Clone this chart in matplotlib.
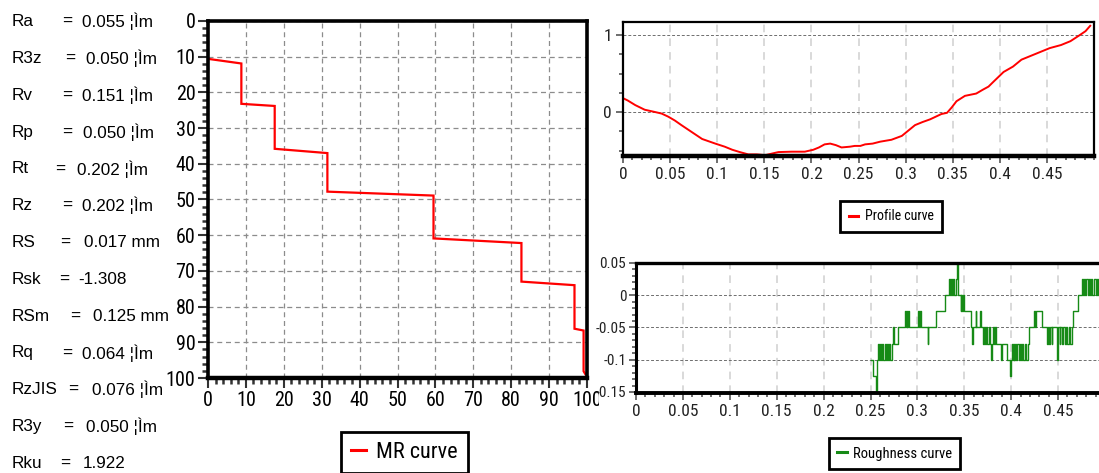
import matplotlib
matplotlib.use("Agg")
import matplotlib.pyplot as plt
from matplotlib import font_manager as fm
from matplotlib.ticker import MultipleLocator, FixedLocator
from matplotlib.lines import Line2D
from matplotlib.transforms import Bbox, TransformedBbox

# ---------------- data ----------------
stat_names = ["Ra", "R3z", "Rv", "Rp", "Rt", "Rz", "RS", "Rsk", "RSm", "Rq", "RzJIS", "R3y", "Rku"]
stat_values = ["0.055 ¦Ìm", "0.050 ¦Ìm", "0.151 ¦Ìm", "0.050 ¦Ìm", "0.202 ¦Ìm", "0.202 ¦Ìm",
               "0.017 mm", "-1.308", "0.125 mm", "0.064 ¦Ìm", "0.076 ¦Ìm", "0.050 ¦Ìm", "1.922"]

mr_x = [0, 8.8, 8.8, 17.6, 17.6, 31.5, 31.5, 59.5, 59.5, 82.7, 82.7, 96.7, 96.7, 99.1, 99.1, 99.6]
mr_y = [10.6, 11.9, 23.2, 23.8, 35.8, 37.0, 47.8, 48.9, 60.9, 62.2, 73.0, 74.0, 86.2, 86.7, 98.1, 99.0]
mr_xticks = [0, 10, 20, 30, 40, 50, 60, 70, 80, 90, 100]
mr_yticks = [0, 10, 20, 30, 40, 50, 60, 70, 80, 90, 100]

profile_x = [0.000, 0.005, 0.013, 0.023, 0.034, 0.041, 0.048, 0.055, 0.062, 0.073, 0.084, 0.091,
             0.098, 0.108, 0.116, 0.124, 0.133, 0.142, 0.151, 0.158, 0.165, 0.179, 0.193, 0.202,
             0.208, 0.214, 0.220, 0.226, 0.232, 0.241, 0.246, 0.252, 0.257, 0.265, 0.273, 0.285,
             0.296, 0.303, 0.310, 0.318, 0.326, 0.338, 0.344, 0.349, 0.354, 0.363, 0.375, 0.382,
             0.388, 0.393, 0.404, 0.414, 0.423, 0.431, 0.439, 0.453, 0.465, 0.475, 0.485, 0.491, 0.496]
profile_y = [0.18, 0.15, 0.09, 0.03, 0.00, -0.02, -0.06, -0.11, -0.17, -0.26, -0.35, -0.38,
             -0.41, -0.45, -0.49, -0.52, -0.55, -0.55, -0.56, -0.54, -0.52, -0.515, -0.515, -0.49,
             -0.46, -0.42, -0.41, -0.43, -0.46, -0.45, -0.44, -0.44, -0.42, -0.41, -0.385, -0.36,
             -0.31, -0.24, -0.17, -0.13, -0.095, -0.026, -0.01, 0.06, 0.14, 0.21, 0.24, 0.29,
             0.33, 0.39, 0.52, 0.59, 0.68, 0.72, 0.76, 0.83, 0.87, 0.92, 1.00, 1.05, 1.12]

rough_x = [0.2500, 0.2525, 0.2555, 0.2565, 0.2585, 0.2595, 0.2605, 0.2615, 0.2625, 0.2635,
           0.2650, 0.2660, 0.2675, 0.2685, 0.2700, 0.2710, 0.2725, 0.2745, 0.2755, 0.2790,
           0.2870, 0.2878, 0.2885, 0.2893, 0.2900, 0.2908, 0.3010, 0.3020, 0.3030, 0.3040,
           0.3110, 0.3118, 0.3200, 0.3290, 0.3340, 0.3350, 0.3360, 0.3370, 0.3380, 0.3390,
           0.3410, 0.3422, 0.3430, 0.3460, 0.3470, 0.3480, 0.3490, 0.3500, 0.3570, 0.3580,
           0.3590, 0.3620, 0.3630, 0.3665, 0.3675, 0.3700, 0.3710, 0.3720, 0.3735, 0.3745,
           0.3760, 0.3770, 0.3785, 0.3795, 0.3805, 0.3815, 0.3825, 0.3840, 0.3890, 0.3900,
           0.3960, 0.3985, 0.3995, 0.4005, 0.4015, 0.4025, 0.4035, 0.4045, 0.4055, 0.4065,
           0.4080, 0.4090, 0.4105, 0.4115, 0.4130, 0.4145, 0.4160, 0.4175, 0.4190, 0.4245,
           0.4255, 0.4265, 0.4330, 0.4380, 0.4390, 0.4400, 0.4410, 0.4430, 0.4440, 0.4490,
           0.4500, 0.4515, 0.4525, 0.4540, 0.4550, 0.4570, 0.4585, 0.4600, 0.4615, 0.4630,
           0.4645, 0.4660, 0.4710, 0.4760, 0.4770, 0.4780, 0.4790, 0.4800, 0.4815, 0.4825,
           0.4840, 0.4850, 0.4865, 0.4880, 0.4900, 0.4910, 0.4930, 0.4950, 0.5000]
rough_y = [-0.100, -0.125, -0.150, -0.100, -0.075, -0.100, -0.075, -0.100, -0.075, -0.100,
           -0.075, -0.100, -0.075, -0.100, -0.075, -0.100, -0.075, -0.050, -0.075, -0.050,
           -0.025, -0.050, -0.025, -0.050, -0.025, -0.050, -0.025, -0.050, -0.025, -0.050,
           -0.075, -0.050, -0.025, 0.000, 0.025, 0.000, 0.025, 0.000, 0.025, 0.000,
           0.025, 0.050, 0.000, -0.025, 0.000, -0.025, 0.000, -0.025, -0.050, -0.075,
           -0.050, -0.025, -0.050, -0.025, -0.050, -0.075, -0.050, -0.075, -0.050, -0.075,
           -0.050, -0.075, -0.100, -0.075, -0.050, -0.075, -0.050, -0.075, -0.100, -0.075,
           -0.100, -0.125, -0.100, -0.075, -0.100, -0.075, -0.100, -0.075, -0.100, -0.075,
           -0.100, -0.075, -0.100, -0.075, -0.100, -0.075, -0.100, -0.075, -0.050, -0.025,
           -0.050, -0.025, -0.050, -0.075, -0.050, -0.075, -0.050, -0.075, -0.050, -0.100,
           -0.050, -0.075, -0.050, -0.075, -0.050, -0.075, -0.050, -0.075, -0.050, -0.075,
           -0.050, -0.025, 0.000, 0.025, 0.000, 0.025, 0.000, 0.025, 0.000, 0.025,
           0.000, 0.025, 0.000, 0.025, 0.000, 0.025, 0.000, 0.025, 0.025]

xs_ticks = [0, 0.05, 0.1, 0.15, 0.2, 0.25, 0.3, 0.35, 0.4, 0.45]
xs_labels = ["0", "0.05", "0.1", "0.15", "0.2", "0.25", "0.3", "0.35", "0.4", "0.45"]
profile_yticks = [0, 1]
rough_yticks = [-0.15, -0.1, -0.05, 0, 0.05]
rough_ylabels = ["-0.15", "-0.1", "-0.05", "0", "0.05"]

# ---------------- layout / style ----------------
W, H = 1099, 473
names = {f.name for f in fm.fontManager.ttflist}
NARROW = "Liberation Sans"
for cand in ["Liberation Sans Narrow", "Arial Narrow", "Roboto Condensed", "PT Sans Narrow",
             "Archivo Narrow", "Barlow Semi Condensed", "Asap Condensed"]:
    if cand in names:
        NARROW = cand
        break
REG = "Liberation Sans" if "Liberation Sans" in names else "DejaVu Sans"

fig = plt.figure(figsize=(W / 100, H / 100), dpi=100)
fig.patch.set_facecolor("white")


def frac(left, top, right, bottom):
    return [left / W, 1 - bottom / H, (right - left) / W, (bottom - top) / H]


# stats text
eq_x = [62, 65, 62, 62, 55, 62, 60, 59, 70, 62, 68, 63, 60]
val_x = [82, 86, 82, 83, 77, 82, 84, 78, 93, 82, 92, 86, 83]
for i, (n, v) in enumerate(zip(stat_names, stat_values)):
    yc = 1 - (21.7 + i * 36.8) / H
    fig.text(12 / W, yc, n, fontsize=12.3, family=REG, va="center", ha="left", color="black")
    fig.text(eq_x[i] / W, yc, "=", fontsize=12.3, family=REG, va="center", ha="left", color="black")
    fig.text(val_x[i] / W, yc, v, fontsize=12.3, family=REG, va="center", ha="left", color="black")


def style_axes(ax, lws):
    for side, lw in zip(["left", "top", "right", "bottom"], lws):
        ax.spines[side].set_linewidth(lw)
        ax.spines[side].set_color("black")
    ax.set_axisbelow(True)


# ---------- MR curve ----------
ax1 = fig.add_axes(frac(208, 21, 587, 378))
ax1.plot(mr_x, mr_y, color="#ff0000", lw=1.6, label="MR curve", solid_joinstyle="miter")
ax1.set_xlim(0, 100)
ax1.set_ylim(100, 0)
ax1.xaxis.set_major_locator(FixedLocator(mr_xticks))
ax1.yaxis.set_major_locator(FixedLocator(mr_yticks))
ax1.xaxis.set_minor_locator(MultipleLocator(2))
ax1.yaxis.set_minor_locator(MultipleLocator(2))
ax1.grid(True, which="major", color="#8c8c8c", linestyle=(0, (4, 3)), lw=0.9)
ax1.tick_params(which="major", length=7, width=1.5, color="#333333", pad=2,
                labelsize=14.5, labelcolor="black")
ax1.tick_params(which="minor", length=4, width=1.8, color="#333333")
for lab in ax1.get_xticklabels() + ax1.get_yticklabels():
    lab.set_family(NARROW)
style_axes(ax1, [2.6, 2.6, 2.6, 3.2])
clip = TransformedBbox(Bbox.from_extents(0, 0, 599 / W, 1), fig.transFigure)
for lab in ax1.get_xticklabels():
    lab.set_clip_box(clip)
    lab.set_clip_on(True)

# ---------- Profile curve ----------
ax2 = fig.add_axes(frac(623, 22, 1094, 156))
ax2.plot(profile_x, profile_y, color="#ff0000", lw=1.4, label="Profile curve")
ax2.set_xlim(0, 0.5)
ax2.set_ylim(-0.571, 1.169)
ax2.xaxis.set_major_locator(FixedLocator(xs_ticks))
ax2.set_xticklabels(xs_labels)
ax2.yaxis.set_major_locator(FixedLocator(profile_yticks))
ax2.xaxis.set_minor_locator(MultipleLocator(0.01))
ax2.yaxis.set_minor_locator(MultipleLocator(0.25))
ax2.xaxis.grid(True, which="major", color="#cfcfcf", linestyle=(0, (5, 4)), lw=1.1)
ax2.yaxis.grid(True, which="major", color="#6e6e6e", linestyle=(0, (3, 2)), lw=0.7)
ax2.tick_params(which="major", length=5, width=1.2, color="#555555", pad=3,
                labelsize=12.5, labelcolor="#222222")
ax2.tick_params(which="minor", length=3, width=1.2, color="#555555")
for lab in ax2.get_xticklabels() + ax2.get_yticklabels():
    lab.set_family(NARROW)
style_axes(ax2, [1.6, 1.6, 1.6, 3.2])

# ---------- Roughness curve ----------
ax3 = fig.add_axes(frac(636, 263, 1105, 393))
ax3.plot(rough_x, rough_y, color="#168a16", lw=1.0, drawstyle="steps-post", label="Roughness curve")
ax3.set_xlim(0, 0.5)
ax3.set_ylim(-0.1516, 0.05)
ax3.xaxis.set_major_locator(FixedLocator(xs_ticks))
ax3.set_xticklabels(xs_labels)
ax3.yaxis.set_major_locator(FixedLocator(rough_yticks))
ax3.set_yticklabels(rough_ylabels)
ax3.xaxis.set_minor_locator(MultipleLocator(0.01))
ax3.yaxis.set_minor_locator(MultipleLocator(0.01))
ax3.xaxis.grid(True, which="major", color="#cfcfcf", linestyle=(0, (5, 4)), lw=1.1)
ax3.yaxis.grid(True, which="major", color="#6e6e6e", linestyle=(0, (3, 2)), lw=0.7)
ax3.tick_params(axis="x", which="major", length=5, width=1.2, color="#555555", pad=3,
                labelsize=12.5, labelcolor="#222222")
ax3.tick_params(axis="y", which="major", length=5, width=1.2, color="#555555", pad=2,
                labelsize=11, labelcolor="#222222")
ax3.tick_params(which="minor", length=3, width=1.2, color="#555555")
for lab in ax3.get_xticklabels() + ax3.get_yticklabels():
    lab.set_family(NARROW)
style_axes(ax3, [2.2, 2.4, 2.2, 2.8])


# ---------- legends ----------
def add_legend(ax, cx, cy, size, pad):
    h, l = ax.get_legend_handles_labels()
    h = [Line2D([], [], color=hh.get_color(), lw=2.2) for hh in h]
    leg = fig.legend(h, l, loc="center", bbox_to_anchor=(cx / W, 1 - cy / H),
                     prop={"family": NARROW, "size": size}, fancybox=False, shadow=False,
                     frameon=True, handlelength=0.7, handletextpad=0.45, borderpad=pad,
                     borderaxespad=0)
    fr = leg.get_frame()
    fr.set_edgecolor("black")
    fr.set_linewidth(2.0)
    fr.set_facecolor("white")
    fr.set_alpha(1)
    return leg


add_legend(ax1, 404.5, 452, 16, 0.45)
add_legend(ax2, 891, 216.5, 10, 0.6)
add_legend(ax3, 894.5, 453.5, 10.5, 0.55)

fig.savefig("out.png", dpi=100, facecolor="white")
